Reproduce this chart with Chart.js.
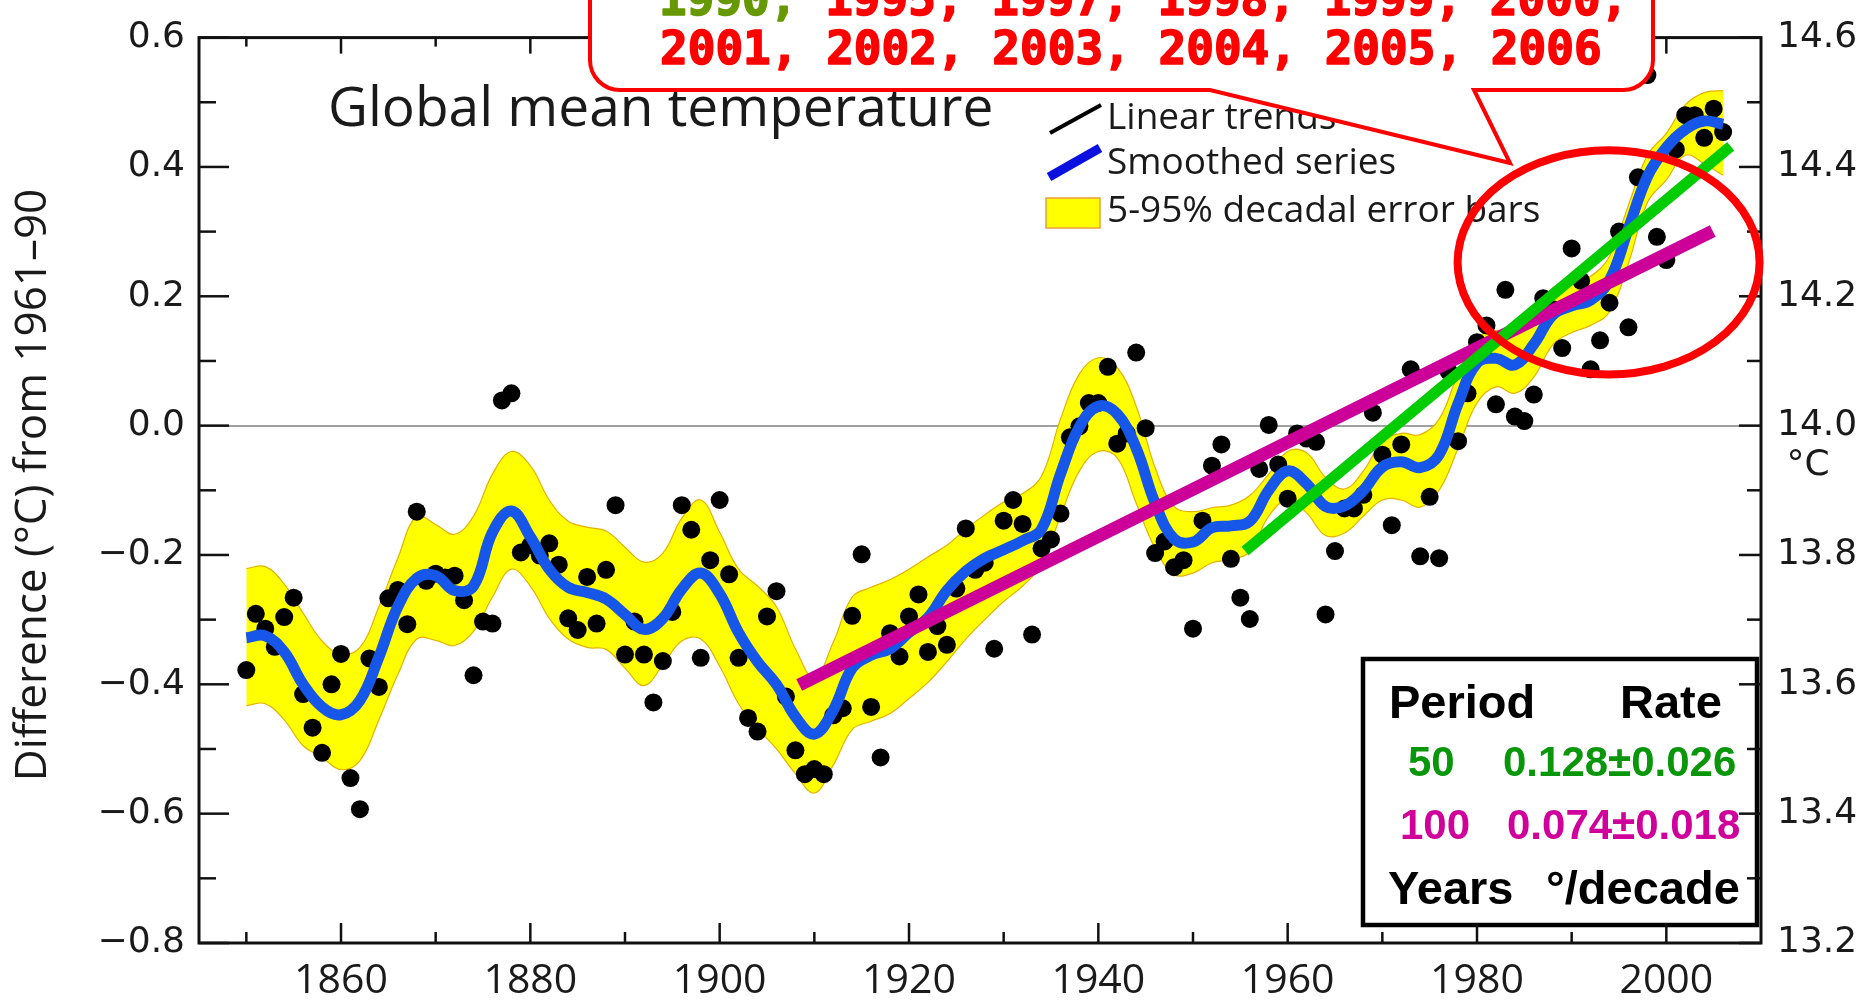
<!DOCTYPE html>
<html>
<head>
<meta charset="utf-8">
<title>Global mean temperature</title>
<script src="https://cdn.jsdelivr.net/npm/chart.js@4.4.0/dist/chart.umd.min.js"></script>
<style>
  html, body { margin: 0; padding: 0; background: #fff; }
  #wrap { width: 1870px; height: 1002px; }
</style>
</head>
<body>
<div id="wrap"><canvas id="tempChart" width="1870" height="1002"></canvas></div>
<script>
// annual global anomalies (degC from 1961-90)
const years = [
    1850, 1851, 1852, 1853, 1854, 1855, 1856, 1857, 1858, 1859,
    1860, 1861, 1862, 1863, 1864, 1865, 1866, 1867, 1868, 1869,
    1870, 1871, 1872, 1873, 1874, 1875, 1876, 1877, 1878, 1879,
    1880, 1881, 1882, 1883, 1884, 1885, 1886, 1887, 1888, 1889,
    1890, 1891, 1892, 1893, 1894, 1895, 1896, 1897, 1898, 1899,
    1900, 1901, 1902, 1903, 1904, 1905, 1906, 1907, 1908, 1909,
    1910, 1911, 1912, 1913, 1914, 1915, 1916, 1917, 1918, 1919,
    1920, 1921, 1922, 1923, 1924, 1925, 1926, 1927, 1928, 1929,
    1930, 1931, 1932, 1933, 1934, 1935, 1936, 1937, 1938, 1939,
    1940, 1941, 1942, 1943, 1944, 1945, 1946, 1947, 1948, 1949,
    1950, 1951, 1952, 1953, 1954, 1955, 1956, 1957, 1958, 1959,
    1960, 1961, 1962, 1963, 1964, 1965, 1966, 1967, 1968, 1969,
    1970, 1971, 1972, 1973, 1974, 1975, 1976, 1977, 1978, 1979,
    1980, 1981, 1982, 1983, 1984, 1985, 1986, 1987, 1988, 1989,
    1990, 1991, 1992, 1993, 1994, 1995, 1996, 1997, 1998, 1999,
    2000, 2001, 2002, 2003, 2004, 2005, 2006
];
const anomalies = [
    -0.378, -0.291, -0.314, -0.342, -0.296, -0.266, -0.415, -0.467, -0.506, -0.400,
    -0.353, -0.545, -0.593, -0.360, -0.404, -0.267, -0.254, -0.307, -0.133, -0.240,
    -0.229, -0.235, -0.232, -0.270, -0.386, -0.303, -0.306, 0.039, 0.050, -0.196,
    -0.185, -0.201, -0.182, -0.215, -0.298, -0.316, -0.234, -0.306, -0.223, -0.123,
    -0.354, -0.303, -0.354, -0.428, -0.364, -0.288, -0.123, -0.161, -0.359, -0.208,
    -0.115, -0.230, -0.359, -0.452, -0.473, -0.295, -0.256, -0.419, -0.502, -0.539,
    -0.531, -0.539, -0.448, -0.437, -0.294, -0.199, -0.435, -0.513, -0.321, -0.357,
    -0.295, -0.261, -0.350, -0.310, -0.339, -0.252, -0.159, -0.223, -0.212, -0.345,
    -0.147, -0.115, -0.152, -0.323, -0.190, -0.176, -0.136, -0.018, -0.001, 0.035,
    0.035, 0.091, -0.028, -0.012, 0.113, -0.004, -0.197, -0.179, -0.219, -0.208,
    -0.314, -0.147, -0.062, -0.029, -0.206, -0.266, -0.299, -0.067, 0.001, -0.060,
    -0.113, -0.012, -0.020, -0.025, -0.292, -0.194, -0.128, -0.128, -0.107, 0.020,
    -0.045, -0.154, -0.029, 0.087, -0.202, -0.110, -0.205, 0.084, -0.024, 0.050,
    0.129, 0.155, 0.033, 0.210, 0.014, 0.007, 0.048, 0.197, 0.180, 0.120,
    0.274, 0.224, 0.087, 0.132, 0.190, 0.300, 0.152, 0.384, 0.542, 0.292,
    0.256, 0.427, 0.480, 0.480, 0.445, 0.490, 0.454
];

// smoothed series and its 5-95% band, read every two years
const smoothYears = [
    1850, 1852, 1854, 1856, 1858, 1860, 1862, 1864, 1866, 1868,
    1870, 1872, 1874, 1876, 1878, 1880, 1882, 1884, 1886, 1888,
    1890, 1892, 1894, 1896, 1898, 1900, 1902, 1904, 1906, 1908,
    1910, 1912, 1914, 1916, 1918, 1920, 1922, 1924, 1926, 1928,
    1930, 1932, 1934, 1936, 1938, 1940, 1942, 1944, 1946, 1948,
    1950, 1952, 1954, 1956, 1958, 1960, 1962, 1964, 1966, 1968,
    1970, 1972, 1974, 1976, 1978, 1980, 1982, 1984, 1986, 1988,
    1990, 1992, 1994, 1996, 1998, 2000, 2002, 2004, 2006
];
const smoothValues = [
    -0.328, -0.325, -0.350, -0.400, -0.435, -0.447, -0.425, -0.358, -0.280, -0.236,
    -0.232, -0.255, -0.248, -0.165, -0.132, -0.172, -0.222, -0.250, -0.258, -0.268,
    -0.292, -0.315, -0.298, -0.253, -0.228, -0.260, -0.320, -0.365, -0.400, -0.450,
    -0.477, -0.440, -0.375, -0.355, -0.345, -0.320, -0.297, -0.255, -0.225, -0.205,
    -0.192, -0.178, -0.160, -0.075, -0.002, 0.030, 0.018, -0.035, -0.120, -0.175,
    -0.180, -0.158, -0.155, -0.148, -0.100, -0.070, -0.090, -0.125, -0.124, -0.100,
    -0.064, -0.056, -0.065, -0.045, 0.034, 0.097, 0.104, 0.094, 0.126, 0.171,
    0.185, 0.194, 0.225, 0.305, 0.385, 0.430, 0.458, 0.471, 0.466
];
const bandUpper = [
    -0.221, -0.218, -0.245, -0.290, -0.333, -0.353, -0.343, -0.280, -0.205, -0.140,
    -0.153, -0.168, -0.140, -0.075, -0.040, -0.062, -0.115, -0.148, -0.157, -0.163,
    -0.188, -0.211, -0.197, -0.143, -0.115, -0.165, -0.222, -0.248, -0.280, -0.345,
    -0.390, -0.335, -0.265, -0.250, -0.238, -0.222, -0.203, -0.185, -0.160, -0.138,
    -0.118, -0.105, -0.078, 0.010, 0.080, 0.105, 0.090, 0.030, -0.065, -0.125,
    -0.133, -0.127, -0.123, -0.108, -0.075, -0.040, -0.042, -0.080, -0.098, -0.070,
    -0.025, -0.012, -0.014, 0.010, 0.080, 0.135, 0.147, 0.145, 0.175, 0.213,
    0.222, 0.231, 0.262, 0.341, 0.418, 0.452, 0.496, 0.515, 0.518
];
const bandLower = [
    -0.433, -0.430, -0.455, -0.495, -0.513, -0.532, -0.518, -0.455, -0.385, -0.330,
    -0.332, -0.340, -0.318, -0.265, -0.222, -0.248, -0.298, -0.330, -0.343, -0.346,
    -0.375, -0.402, -0.370, -0.333, -0.330, -0.372, -0.430, -0.468, -0.500, -0.538,
    -0.568, -0.525, -0.470, -0.457, -0.445, -0.422, -0.397, -0.365, -0.330, -0.300,
    -0.272, -0.248, -0.215, -0.140, -0.070, -0.040, -0.050, -0.120, -0.190, -0.230,
    -0.228, -0.212, -0.207, -0.195, -0.140, -0.115, -0.135, -0.170, -0.166, -0.140,
    -0.115, -0.115, -0.126, -0.100, -0.035, 0.035, 0.060, 0.050, 0.075, 0.125,
    0.144, 0.155, 0.176, 0.251, 0.345, 0.380, 0.418, 0.405, 0.387
];

// linear trends: end points of the 50 and 100 year fits
const trend50Years = [1955.5, 2006.8];
const trend50Values = [-0.194, 0.432];
const trend100Years = [1908.4, 2004.9];
const trend100Values = [-0.401, 0.301];

// axes
const xTicks = [1860, 1880, 1900, 1920, 1940, 1960, 1980, 2000];
const xMinorTicks = [1850, 1870, 1890, 1910, 1930, 1950, 1970, 1990];
const yTicks = [-0.8, -0.6, -0.4, -0.2, 0.0, 0.2, 0.4, 0.6];
const yMinorTicks = [-0.7, -0.5, -0.3, -0.1, 0.1, 0.3, 0.5];
const y2Ticks = [13.2, 13.4, 13.6, 13.8, 14.0, 14.2, 14.4, 14.6];
const y2MinorTicks = [13.3, 13.5, 13.7, 13.9, 14.1, 14.3, 14.5];

// highlighted region (year, anomaly) and its half-widths
const ellipseCenter = [1993.9, 0.2525];
const ellipseRadius = [15.95, 0.1734];

const calloutLine1 = [['1990,', '#669900'], [' 1995, 1997, 1998, 1999, 2000,', '#ff0000']];
const calloutLine2 = '2001, 2002, 2003, 2004, 2005, 2006';

// text, left x, colour, font size
const tableRows = [
    [['Period', 1389, '#000', 47], ['Rate', 1620, '#000', 47]],
    [['50', 1408, '#0a960a', 42], ['0.128\u00b10.026', 1503, '#0a960a', 42]],
    [['100', 1400, '#d0009a', 42], ['0.074\u00b10.018', 1507, '#d0009a', 42]],
    [['Years', 1388, '#000', 47], ['\u00b0/decade', 1546, '#000', 47]]
];

const mainClr = '#1656e8';
const pairs = (xs, ys) => xs.map((x, i) => ({ x: x, y: ys[i] }));
const fmt = v => (v < 0 ? '\u2212' : '') + Math.abs(v).toFixed(1);

function line(ctx, x1, y1, x2, y2) {
    ctx.beginPath();
    ctx.moveTo(x1, y1);
    ctx.lineTo(x2, y2);
    ctx.stroke();
}

const decor = {
    id: 'decor',
    afterDraw(chart) {
        const ctx = chart.ctx;
        const ca = chart.chartArea;
        const xs = chart.scales.x, ys = chart.scales.y, ys2 = chart.scales.y2;
        ctx.save();

        // table of rates
        ctx.fillStyle = '#fff';
        ctx.fillRect(1363, 659, 394, 266);
        ctx.strokeStyle = '#000';
        ctx.lineWidth = 4.5;
        ctx.strokeRect(1363, 659, 394, 266);
        ctx.textBaseline = 'alphabetic';
        const rowBase = [718, 776, 839, 904];
        tableRows.forEach((row, r) => {
            row.forEach(cell => {
                ctx.font = 'bold ' + cell[3] + 'px "Liberation Sans", Arial, sans-serif';
                ctx.fillStyle = cell[2];
                ctx.fillText(cell[0], cell[1], rowBase[r]);
            });
        });

        // frame and inward ticks
        ctx.strokeStyle = '#111';
        ctx.lineWidth = 3;
        ctx.strokeRect(ca.left, ca.top, ca.right - ca.left, ca.bottom - ca.top);
        ctx.lineWidth = 2.5;
        xTicks.forEach(v => {
            const px = xs.getPixelForValue(v);
            line(ctx, px, ca.bottom, px, ca.bottom - 20);
            line(ctx, px, ca.top, px, ca.top + 16);
        });
        xMinorTicks.forEach(v => {
            const px = xs.getPixelForValue(v);
            line(ctx, px, ca.bottom, px, ca.bottom - 11);
            line(ctx, px, ca.top, px, ca.top + 9);
        });
        yTicks.forEach(v => {
            const py = ys.getPixelForValue(v);
            line(ctx, ca.left, py, ca.left + 30, py);
        });
        yMinorTicks.forEach(v => {
            const py = ys.getPixelForValue(v);
            line(ctx, ca.left, py, ca.left + 17, py);
        });
        y2Ticks.forEach(v => {
            const py = ys2.getPixelForValue(v);
            line(ctx, ca.right, py, ca.right - 22, py);
        });
        y2MinorTicks.forEach(v => {
            const py = ys2.getPixelForValue(v);
            line(ctx, ca.right, py, ca.right - 14, py);
        });

        // titles and legend
        ctx.fillStyle = '#1a1a1a';
        ctx.font = '55px "Open Sans", sans-serif';
        ctx.fillText('Global mean temperature', 328, 126);

        ctx.save();
        ctx.translate(33, 485);
        ctx.rotate(-Math.PI / 2);
        ctx.textAlign = 'center';
        ctx.textBaseline = 'middle';
        ctx.font = '44px "Open Sans", sans-serif';
        ctx.fillText('Difference (\u00b0C) from 1961\u201390', 0, 0);
        ctx.restore();

        ctx.textAlign = 'center';
        ctx.textBaseline = 'middle';
        ctx.font = '36px "DejaVu Sans", sans-serif';
        ctx.fillText('\u00b0C', 1808, 466);
        ctx.textAlign = 'left';
        ctx.textBaseline = 'alphabetic';

        ctx.strokeStyle = '#000';
        ctx.lineWidth = 4;
        line(ctx, 1050, 133, 1101, 105);
        ctx.strokeStyle = '#0a10e0';
        ctx.lineWidth = 9;
        line(ctx, 1049, 177, 1100, 148);
        ctx.fillStyle = '#ffff00';
        ctx.fillRect(1046, 198, 54, 30);
        ctx.strokeStyle = '#e8a040';
        ctx.lineWidth = 1.5;
        ctx.strokeRect(1046, 198, 54, 30);
        ctx.fillStyle = '#1a1a1a';
        ctx.font = '37px "Open Sans", sans-serif';
        ctx.fillText('Linear trends', 1107, 129);
        ctx.fillText('Smoothed series', 1107, 174);
        ctx.fillText('5-95% decadal error bars', 1107, 222);

        // red ellipse round the recent years
        const cx = xs.getPixelForValue(ellipseCenter[0]);
        const cy = ys.getPixelForValue(ellipseCenter[1]);
        const rx = Math.abs(xs.getPixelForValue(ellipseCenter[0] + ellipseRadius[0]) - cx);
        const ry = Math.abs(ys.getPixelForValue(ellipseCenter[1] + ellipseRadius[1]) - cy);
        ctx.strokeStyle = '#ff0000';
        ctx.lineWidth = 8;
        ctx.beginPath();
        ctx.ellipse(cx, cy, rx, ry, 0, 0, Math.PI * 2);
        ctx.stroke();

        // callout with tail
        ctx.beginPath();
        ctx.moveTo(590, -40);
        ctx.lineTo(590, 60);
        ctx.arcTo(590, 90, 620, 90, 30);
        ctx.lineTo(1210, 90);
        ctx.lineTo(1510, 163);
        ctx.lineTo(1474, 90);
        ctx.lineTo(1623, 90);
        ctx.arcTo(1653, 90, 1653, 60, 30);
        ctx.lineTo(1653, -40);
        ctx.closePath();
        ctx.fillStyle = '#fff';
        ctx.fill();
        ctx.lineWidth = 4;
        ctx.strokeStyle = '#ff0000';
        ctx.stroke();

        ctx.font = 'bold 46px "DejaVu Sans Mono", monospace';
        ctx.lineWidth = 1.6;
        ctx.lineJoin = 'round';
        let tx = 659;
        calloutLine1.forEach(seg => {
            ctx.fillStyle = seg[1];
            ctx.strokeStyle = seg[1];
            ctx.fillText(seg[0], tx, 15);
            ctx.strokeText(seg[0], tx, 15);
            tx += ctx.measureText(seg[0]).width;
        });
        ctx.fillStyle = '#ff0000';
        ctx.strokeStyle = '#ff0000';
        ctx.fillText(calloutLine2, 660, 64);
        ctx.strokeText(calloutLine2, 660, 64);

        ctx.restore();
    }
};

new Chart(document.getElementById('tempChart'), {
    type: 'line',
    data: {
        datasets: [{
            label: 'band upper',
            data: pairs(smoothYears, bandUpper),
            borderColor: '#e3b100',
            borderWidth: 1.2,
            backgroundColor: '#ffff00',
            fill: '+1',
            pointRadius: 0,
            tension: 0.4,
            order: 6
        }, {
            label: 'band lower',
            data: pairs(smoothYears, bandLower),
            borderColor: '#e3b100',
            borderWidth: 1.2,
            fill: false,
            pointRadius: 0,
            tension: 0.4,
            order: 5
        }, {
            label: 'Annual',
            data: pairs(years, anomalies),
            showLine: false,
            pointRadius: 9,
            pointBorderWidth: 0,
            pointBackgroundColor: '#000',
            order: 3
        }, {
            label: 'Smoothed series',
            data: pairs(smoothYears, smoothValues),
            borderColor: mainClr,
            borderWidth: 11,
            pointRadius: 0,
            tension: 0.4,
            fill: false,
            order: 2
        }, {
            label: '100 years',
            data: pairs(trend100Years, trend100Values),
            borderColor: '#cc0099',
            borderWidth: 13,
            borderCapStyle: 'butt',
            pointRadius: 0,
            fill: false,
            order: 1
        }, {
            label: '50 years',
            data: pairs(trend50Years, trend50Values),
            borderColor: '#00cc00',
            borderWidth: 11,
            borderCapStyle: 'butt',
            pointRadius: 0,
            fill: false,
            order: 0
        }]
    },
    options: {
        responsive: false,
        animation: false,
        layout: { padding: { top: 22, left: 0, right: 0, bottom: 0 } },
        plugins: {
            legend: { display: false },
            tooltip: { enabled: false }
        },
        scales: {
            x: {
                type: 'linear',
                min: 1845,
                max: 2010,
                grid: { display: false, drawTicks: false },
                border: { display: false },
                afterBuildTicks: s => { s.ticks = xTicks.map(v => ({ value: v })); },
                afterFit: s => { s.height = 59; },
                ticks: {
                    padding: 14,
                    color: '#1a1a1a',
                    maxRotation: 0,
                    autoSkip: false,
                    font: { family: '"Open Sans", sans-serif', size: 41 },
                    callback: v => String(v)
                }
            },
            y: {
                min: -0.8,
                max: 0.6,
                grid: {
                    drawTicks: false,
                    lineWidth: 2,
                    color: c => (c.tick && c.tick.value === 0 ? '#a0a0a0' : 'rgba(0,0,0,0)')
                },
                border: { display: false },
                afterBuildTicks: s => { s.ticks = yTicks.map(v => ({ value: v })); },
                afterFit: s => { s.width = 199; },
                ticks: {
                    padding: 14,
                    color: '#1a1a1a',
                    font: { family: '"DejaVu Sans", sans-serif', size: 36 },
                    callback: v => fmt(v)
                }
            },
            y2: {
                position: 'right',
                min: 13.2,
                max: 14.6,
                grid: { display: false, drawTicks: false },
                border: { display: false },
                afterBuildTicks: s => { s.ticks = y2Ticks.map(v => ({ value: v })); },
                afterFit: s => { s.width = 109; },
                ticks: {
                    padding: 16,
                    color: '#1a1a1a',
                    font: { family: '"DejaVu Sans", sans-serif', size: 36 },
                    callback: v => v.toFixed(1)
                }
            }
        }
    },
    plugins: [decor]
});
</script>
</body>
</html>
